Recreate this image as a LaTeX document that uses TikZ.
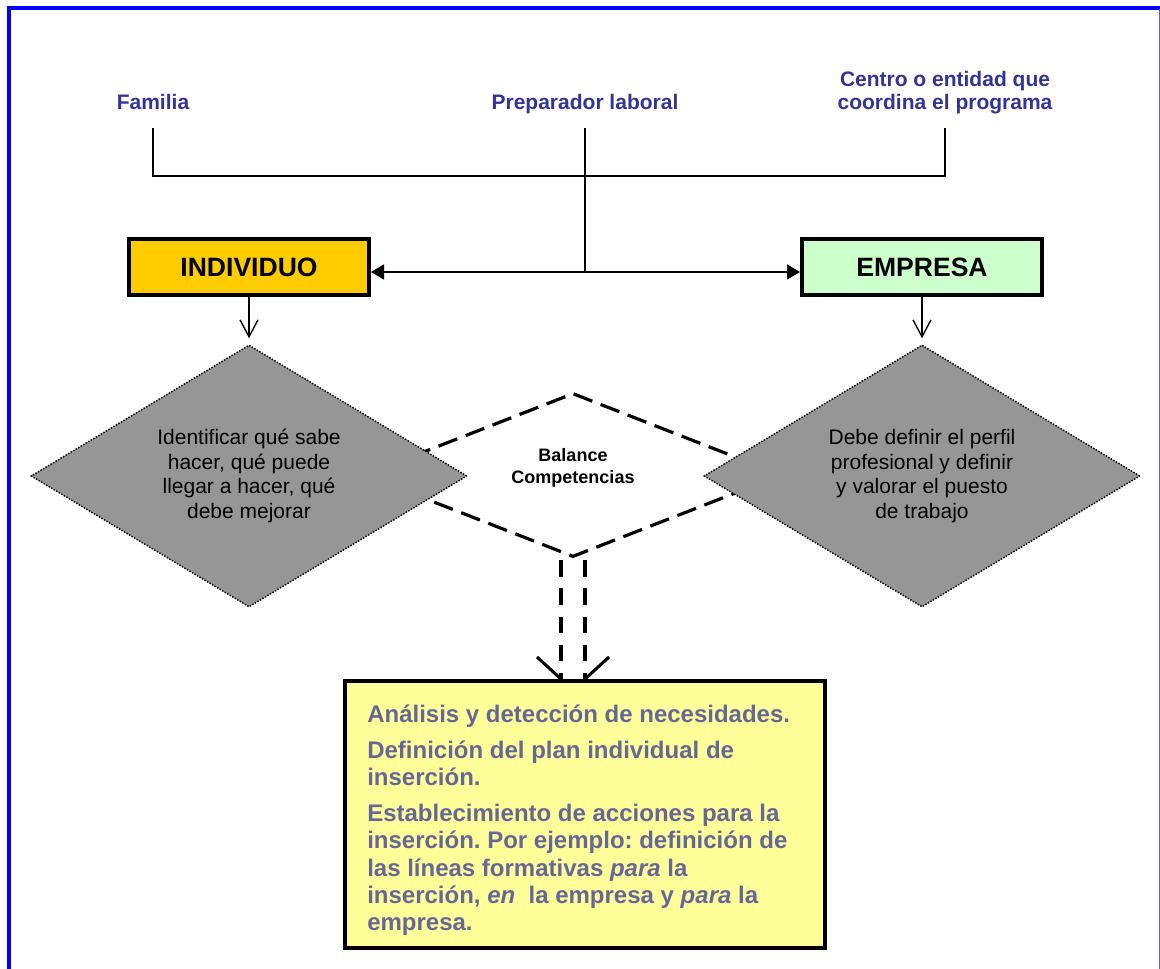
\documentclass[tikz,border=0pt]{standalone}
\usepackage{fontspec}
\setmainfont{Liberation Sans}
\usetikzlibrary{arrows.meta,shapes.geometric}
\definecolor{labblue}{HTML}{333399}
\definecolor{ytext}{HTML}{666699}
\definecolor{indfill}{HTML}{FFCC00}
\definecolor{empfill}{HTML}{CCFFCC}
\definecolor{yelfill}{HTML}{FFFF99}
\definecolor{grayfill}{HTML}{969696}
\definecolor{frameblue}{HTML}{0000FF}
\definecolor{frameright}{HTML}{5A5AEE}
\frenchspacing
\begin{document}
\begin{tikzpicture}[x=0.75pt,y=-0.75pt,
  lab/.style={font=\fontsize{15.75pt}{17.25pt}\selectfont\bfseries, text=labblue, inner sep=0pt, align=center},
  bigbox/.style={draw=black, line width=3pt, minimum width=180pt, minimum height=42pt,
    font=\fontsize{19.9pt}{22pt}\selectfont\bfseries, inner sep=0pt},
  graydia/.style={diamond, shape aspect=1.66, fill=grayfill, draw=black, line width=1.1pt,
    dash pattern=on 1.1pt off 1.1pt, minimum width=327pt, minimum height=196.5pt,
    inner sep=0pt, align=center, font=\fontsize{15.75pt}{18.4pt}\selectfont},
  dashdia/.style={diamond, shape aspect=2.55, draw=black, line width=2.4pt,
    dash pattern=on 15pt off 6.75pt, minimum width=313.5pt, minimum height=123pt, inner sep=0pt},
  conn/.style={line width=1.1pt},
  downarr/.style={line width=1pt, -{Straight Barb[length=12.75pt,width=13.5pt]}, shorten >=4.5pt},
  shaft/.style={line width=2.3pt, dash pattern=on 12.4pt off 8.8pt},
  arm/.style={line width=2.3pt}
]
\useasboundingbox (0,0) rectangle (1160,969);
% frame
\draw[frameblue, line width=3pt] (9,985) -- (9,8) -- (1175,8);
\draw[frameright, line width=1.2pt] (1159.6,9) -- (1159.6,985);

% top labels
\node[lab, anchor=base] (fam) at (153,110) {Familia};
\node[lab, anchor=base] (prep) at (585,110) {Preparador laboral};
\node[lab, anchor=base] (cen) at (945,109.5) {Centro o entidad que\\coordina el programa};

\coordinate (famT) at (153,128);
\coordinate (prepT) at (585,128);
\coordinate (cenT) at (945,128);
\coordinate (busL) at (153,176);
\coordinate (busR) at (945,176);
\coordinate (hub) at (585,272);

\draw[conn] (famT) -- (busL) -- (busR) -- (cenT);
\draw[conn] (prepT) -- (hub);

% boxes
\node[bigbox, fill=indfill] (ind) at (249,267) {INDIVIDUO};
\node[bigbox, fill=empfill] (emp) at (922,267) {EMPRESA};

\draw[conn, {Triangle[length=9.75pt,width=11.25pt]}-{Triangle[length=9.75pt,width=11.25pt]}]
  (ind.east |- hub) -- (emp.west |- hub);

% dashed diamond (behind)
\node[dashdia] (bal) at (573,475) {};

% gray diamonds
\node[graydia] (ldia) at (249,476) {Identificar qué sabe\\hacer, qué puede\\llegar a hacer, qué\\debe mejorar};
\node[graydia] (rdia) at (922,476) {Debe definir el perfil\\profesional y definir\\y valorar el puesto\\de trabajo};

\node[font=\fontsize{13.5pt}{16.5pt}\selectfont\bfseries, align=center, inner sep=0pt] (baltxt) at (573,468) {Balance\\Competencias};

\draw[downarr] (ind) -- (ldia);
\draw[downarr] (emp) -- (rdia);

% yellow box
\node[draw=black, line width=3pt, fill=yelfill, minimum width=360pt, minimum height=200.25pt, inner sep=0pt] (yel) at (585,814.5) {};

% double dashed arrow
\coordinate (dl) at (561,560);
\coordinate (dr) at (585,560);
\draw[shaft] (dl) -- (dl |- yel.north);
\draw[shaft] (dr) -- (dr |- yel.north);
\draw[arm] (dl |- yel.north) -- ++(-24,-22);
\draw[arm] (dr |- yel.north) -- ++(24,-22);

\node[anchor=base west, inner sep=0pt, align=left, text=ytext,
  font=\fontsize{18pt}{20.5pt}\selectfont\bfseries] (ytx) at (367,930.7)
  {Análisis y detección de necesidades.\\[6.2pt]
   Definición del plan individual de\\
   inserción.\\[6.2pt]
   Establecimiento de acciones para la\\
   inserción. Por ejemplo: definición de\\
   las líneas formativas \textit{para} la\\
   inserción, \textit{en}~ la empresa y \textit{para} la\\
   empresa.};
\end{tikzpicture}
\end{document}
